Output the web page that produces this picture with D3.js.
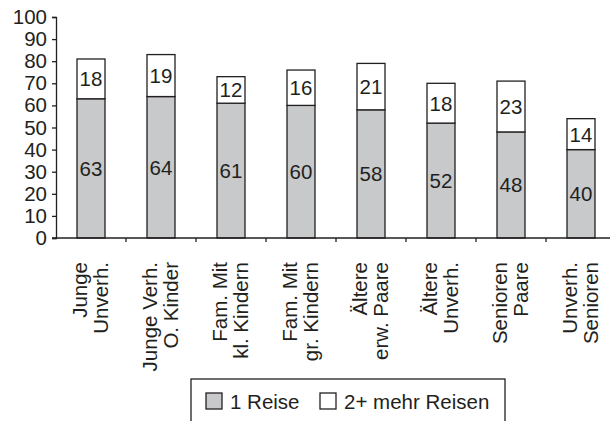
<!DOCTYPE html>
<html>
<head>
<meta charset="utf-8">
<script src="https://cdn.jsdelivr.net/npm/d3@7"></script>
<style>
  body { margin: 0; background: #fff; }
  text { font-family: "Liberation Sans", Arial, sans-serif; fill: #231f20; }
</style>
</head>
<body>
<div class="svg"></div>
<script>
const categories = [
  ["Junge", "Unverh."],
  ["Junge Verh.", "O. Kinder"],
  ["Fam. Mit", "kl. Kindern"],
  ["Fam. Mit", "gr. Kindern"],
  ["Ältere", "erw. Paare"],
  ["Ältere", "Unverh."],
  ["Senioren", "Paare"],
  ["Unverh.", "Senioren"]
];
const oneTrip = [63, 64, 61, 60, 58, 52, 48, 40];
const moreTrips = [18, 19, 12, 16, 21, 18, 23, 14];
const yTicks = [0, 10, 20, 30, 40, 50, 60, 70, 80, 90, 100];
const legendLabels = ["1 Reise", "2+ mehr Reisen"];

const w = 610;
const h = 421;
const ink = "#231f20";
const gray = "#c8c9cb";
const fontSize = 20.5;

const svg = d3.select(".svg").append("svg")
  .attr("width", w)
  .attr("height", h);

const idx = categories.map((d, i) => i);

const xScale = d3.scaleBand()
  .domain(idx)
  .range([56, 616])
  .paddingInner(0.6)
  .paddingOuter(0.3);

const xOuter = d3.scaleBand()
  .domain(idx)
  .range([56, 616]);

const yScale = d3.scaleLinear()
  .domain([0, 100])
  .range([238, 17]);

// y axis
const yAxis = d3.axisLeft(yScale).tickValues(yTicks).tickSize(4).tickPadding(5);
const yg = svg.append("g")
  .attr("transform", "translate(56,0)")
  .call(yAxis);
yg.select(".domain").attr("stroke", ink).attr("stroke-width", 1.3);
yg.selectAll(".tick line").attr("stroke", ink).attr("stroke-width", 1.3);
yg.selectAll(".tick text")
  .attr("font-size", fontSize)
  .attr("font-family", "Liberation Sans, Arial, sans-serif")
  .attr("fill", ink);

// bars
const stack = idx.map(i => ({ i: i, a: oneTrip[i], b: moreTrips[i] }));

svg.selectAll(".bar1")
  .data(stack)
  .enter()
  .append("rect")
  .attr("class", "bar1")
  .attr("x", d => xScale(d.i))
  .attr("width", xScale.bandwidth())
  .attr("y", d => yScale(d.a))
  .attr("height", d => yScale(0) - yScale(d.a))
  .attr("fill", gray)
  .attr("stroke", ink)
  .attr("stroke-width", 1.3);

svg.selectAll(".bar2")
  .data(stack)
  .enter()
  .append("rect")
  .attr("class", "bar2")
  .attr("x", d => xScale(d.i))
  .attr("width", xScale.bandwidth())
  .attr("y", d => yScale(d.a + d.b))
  .attr("height", d => yScale(d.a) - yScale(d.a + d.b))
  .attr("fill", "#fff")
  .attr("stroke", ink)
  .attr("stroke-width", 1.3);

// value labels
svg.selectAll(".lab1")
  .data(stack)
  .enter()
  .append("text")
  .attr("x", d => xScale(d.i) + xScale.bandwidth() / 2)
  .attr("y", d => yScale(d.a / 2))
  .attr("dy", "0.36em")
  .attr("text-anchor", "middle")
  .attr("font-size", fontSize)
  .text(d => d.a);

svg.selectAll(".lab2")
  .data(stack)
  .enter()
  .append("text")
  .attr("x", d => xScale(d.i) + xScale.bandwidth() / 2)
  .attr("y", d => yScale(d.a + d.b / 2))
  .attr("dy", "0.36em")
  .attr("text-anchor", "middle")
  .attr("font-size", fontSize)
  .text(d => d.b);

// x axis
svg.append("line")
  .attr("x1", 52).attr("x2", 616)
  .attr("y1", yScale(0)).attr("y2", yScale(0))
  .attr("stroke", ink).attr("stroke-width", 1.3);

svg.selectAll(".xtick")
  .data(idx.slice(1))
  .enter()
  .append("line")
  .attr("x1", d => xOuter(d)).attr("x2", d => xOuter(d))
  .attr("y1", yScale(0)).attr("y2", yScale(0) + 4)
  .attr("stroke", ink).attr("stroke-width", 1.3);

// category labels, rotated
const catG = svg.selectAll(".cat")
  .data(idx)
  .enter()
  .append("text")
  .attr("transform", d => "translate(" + (xOuter(d) + xOuter.bandwidth() / 2) + ",262) rotate(-90)")
  .attr("text-anchor", "end")
  .attr("font-size", fontSize);

catG.append("tspan")
  .attr("x", 0)
  .attr("y", -4)
  .text(d => categories[d][0]);
catG.append("tspan")
  .attr("x", 0)
  .attr("y", 17)
  .text(d => categories[d][1]);

// legend
svg.append("rect")
  .attr("x", 191).attr("y", 379)
  .attr("width", 314).attr("height", 60)
  .attr("fill", "#fff")
  .attr("stroke", ink).attr("stroke-width", 1.3);

const legendFill = [gray, "#fff"];
const legendX = [206, 320];
legendLabels.forEach((lab, i) => {
  svg.append("rect")
    .attr("x", legendX[i]).attr("y", 393)
    .attr("width", 16).attr("height", 16)
    .attr("fill", legendFill[i])
    .attr("stroke", ink).attr("stroke-width", 1.3);
  svg.append("text")
    .attr("x", legendX[i] + 24).attr("y", 409)
    .attr("font-size", fontSize)
    .text(lab);
});
</script>
</body>
</html>
